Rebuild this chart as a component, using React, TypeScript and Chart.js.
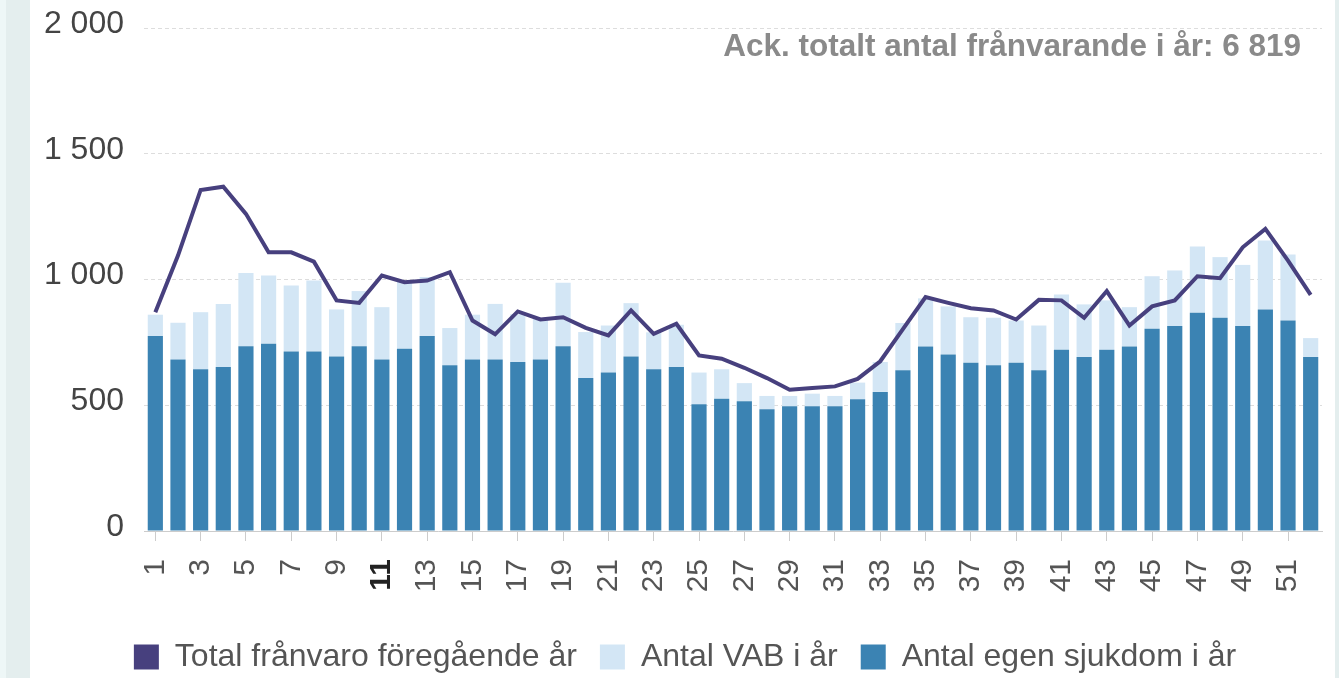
import React, { useEffect, useRef } from 'react';
import { Chart, registerables } from 'chart.js';

Chart.register(...registerables);

const weeks = [
  '1', '2', '3', '4', '5', '6', '7', '8', '9', '10', '11', '12', '13',
  '14', '15', '16', '17', '18', '19', '20', '21', '22', '23', '24', '25', '26',
  '27', '28', '29', '30', '31', '32', '33', '34', '35', '36', '37', '38', '39',
  '40', '41', '42', '43', '44', '45', '46', '47', '48', '49', '50', '51', '52',
];

const egenSjukdom = [
  775, 682, 643, 652, 735, 745, 714, 714, 694, 735, 682, 725, 775,
  659, 682, 682, 672, 682, 735, 608, 630, 694, 643, 652, 504, 526,
  516, 484, 496, 496, 496, 524, 553, 639, 734, 702, 669, 659, 669,
  639, 721, 692, 721, 734, 804, 815, 868, 848, 815, 881, 837, 692,
];

const vab = [
  85, 146, 227, 251, 291, 271, 262, 282, 187, 219, 208, 265, 235,
  148, 178, 221, 190, 162, 252, 183, 187, 212, 147, 168, 126, 117,
  72, 53, 41, 50, 41, 66, 119, 188, 191, 191, 181, 189, 168,
  178, 219, 209, 196, 156, 209, 221, 263, 241, 243, 274, 262, 75,
];

const foregaendeAr = [
  870, 1095, 1356, 1369, 1261, 1108, 1108, 1071, 917, 907, 1016, 989, 996,
  1029, 837, 782, 873, 841, 850, 808, 778, 877, 784, 824, 698, 685,
  649, 608, 562, 569, 575, 605, 675, 803, 930, 907, 886, 877, 841,
  919, 917, 848, 954, 817, 893, 917, 1013, 1005, 1128, 1201, 1075, 939,
];

const seriesNames = ['Total frånvaro föregående år', 'Antal VAB i år', 'Antal egen sjukdom i år'];
const currentWeek = '11';
const accText = 'Ack. totalt antal frånvarande i år: 6 819';
const yMin = 0;
const yMax = 2000;
const yStep = 500;

const FONT = '"Liberation Sans", Arial, Helvetica, sans-serif';
const fmt = (v: number) => String(v).replace(/\B(?=(\d{3})+(?!\d))/g, ' ');

export default function App() {
  const ref = useRef<HTMLCanvasElement>(null);

  useEffect(() => {
    if (!ref.current) return;
    const accPlugin = {
      id: 'accTitle',
      afterLayout(chart: any) {
        if (chart.legend) {
          chart.legend.left += 24;
          chart.legend.right += 24;
        }
      },
      afterDraw(chart: any) {
        const { ctx, chartArea } = chart;
        ctx.save();
        ctx.font = `bold 31.5px ${FONT}`;
        ctx.fillStyle = '#8a8a8a';
        ctx.textAlign = 'right';
        ctx.textBaseline = 'middle';
        ctx.fillText(accText, chartArea.right - 21, chartArea.top + 19);
        ctx.restore();
      },
    };
    const legendRank: Record<number, number> = { 0: 0, 2: 1, 1: 2 };
    const chart = new Chart(ref.current, {
      type: 'bar',
      data: {
        labels: weeks,
        datasets: [
          {
            type: 'line',
            label: seriesNames[0],
            data: foregaendeAr,
            borderColor: '#47407e',
            backgroundColor: '#47407e',
            borderWidth: 4,
            pointRadius: 0,
            tension: 0,
            stack: 'prev',
          } as any,
          {
            label: seriesNames[2],
            data: egenSjukdom,
            backgroundColor: '#3b83b3',
            borderWidth: 0,
            barPercentage: 0.67,
            categoryPercentage: 1,
            stack: 'now',
          },
          {
            label: seriesNames[1],
            data: vab,
            backgroundColor: '#d3e6f5',
            borderWidth: 0,
            barPercentage: 0.67,
            categoryPercentage: 1,
            stack: 'now',
          },
        ],
      },
      options: {
        responsive: false,
        animation: false,
        layout: { padding: { left: 0, right: 17, top: 28, bottom: 7 } },
        plugins: {
          tooltip: { enabled: false },
          title: { display: false },
          legend: {
            position: 'bottom',
            labels: {
              boxWidth: 25,
              boxHeight: 25,
              padding: 23,
              color: '#555555',
              font: { family: FONT, size: 32 },
              sort: (a: any, b: any) => legendRank[a.datasetIndex] - legendRank[b.datasetIndex],
              generateLabels: (c: any) =>
                Chart.defaults.plugins.legend.labels
                  .generateLabels(c)
                  .map((it: any) => ({ ...it, lineWidth: 0, strokeStyle: 'rgba(0,0,0,0)' })),
            },
          },
        },
        scales: {
          x: {
            stacked: true,
            offset: true,
            grid: {
              offset: false,
              drawOnChartArea: false,
              drawTicks: true,
              tickLength: 10,
              tickColor: (c: any) => (c.index % 2 === 0 ? '#cccccc' : 'rgba(0,0,0,0)'),
            },
            border: { display: true, color: '#cccccc', width: 1 },
            ticks: {
              autoSkip: false,
              maxRotation: 90,
              minRotation: 90,
              padding: 18,
              color: (c: any) => (weeks[c.index] === currentWeek ? '#222222' : '#555555'),
              font: (c: any) => ({
                family: FONT,
                size: 30,
                weight: weeks[c.index] === currentWeek ? 'bold' : 'normal',
              }),
              callback: (_v: any, i: number) => (i % 2 === 0 ? weeks[i] : ''),
            },
            afterFit: (s: any) => {
              s.height = 87;
              s.paddingLeft = 0;
              s.paddingRight = 0;
            },
          },
          y: {
            stacked: true,
            min: yMin,
            max: yMax,
            grid: {
              color: (c: any) => (c.tick && c.tick.value === 0 ? 'rgba(0,0,0,0)' : '#dddddd'),
              drawTicks: false,
            },
            border: { display: false, dash: [4, 3] },
            ticks: {
              stepSize: yStep,
              padding: 20,
              labelOffset: -4,
              color: '#444444',
              font: { family: FONT, size: 32 },
              callback: (v: any) => fmt(Number(v)),
            },
            afterFit: (s: any) => {
              s.width = 144;
              s.paddingTop = 0;
              s.paddingBottom = 0;
            },
          },
        },
      } as any,
      plugins: [accPlugin],
    });
    return () => chart.destroy();
  }, []);

  return (
    <div
      style={{
        position: 'fixed',
        left: 0,
        top: 0,
        width: 1339,
        height: 678,
        overflow: 'hidden',
        background: '#ffffff',
      }}
    >
      <div style={{ position: 'absolute', left: 0, top: 0, width: 6, height: 678, background: '#eef7f7' }} />
      <div style={{ position: 'absolute', left: 6, top: 0, width: 24, height: 678, background: '#e4eeee' }} />
      <div style={{ position: 'absolute', left: 1335, top: 0, width: 4, height: 678, background: '#e4eeee' }} />
      <canvas ref={ref} width={1339} height={690} style={{ position: 'absolute', left: 0, top: 0 }} />
    </div>
  );
}
